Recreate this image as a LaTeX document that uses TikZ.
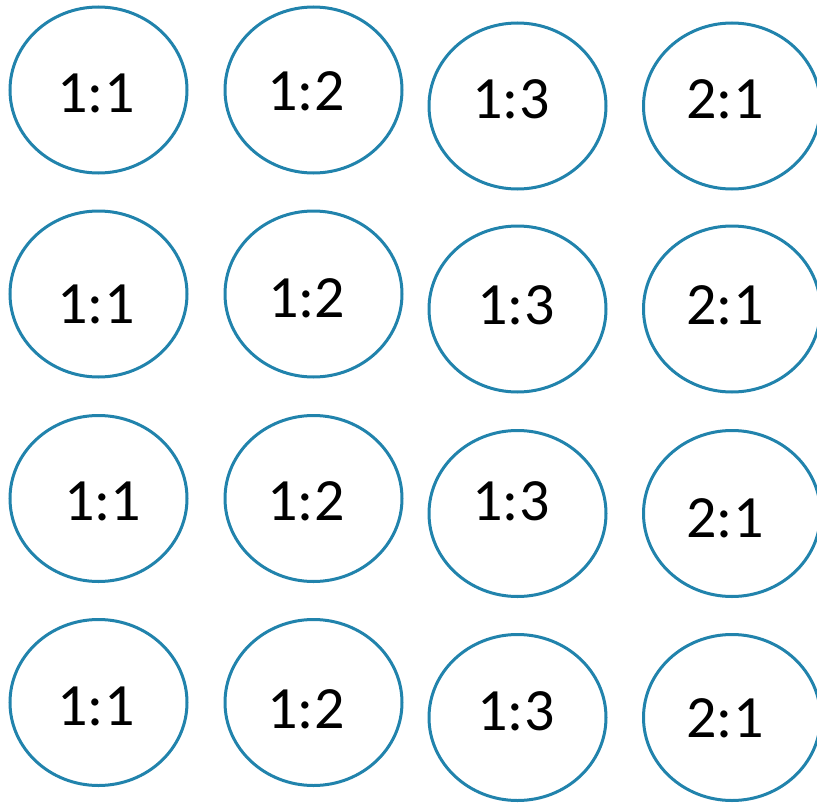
\documentclass[tikz,border=0pt]{standalone}
\usepackage{fontspec}
\setmainfont{Carlito}
\usetikzlibrary{shapes.geometric}
\definecolor{ringblue}{RGB}{33,131,172}
\tikzset{
  ring/.style={ellipse, draw=ringblue, line width=3pt, minimum width=177pt, minimum height=166pt, inner sep=0pt},
  ratio/.style={anchor=base, inner sep=0pt, font=\fontsize{60}{60}\selectfont, text=black}
}
\begin{document}
\begin{tikzpicture}[x=1pt,y=-1pt]
\useasboundingbox (0,0) rectangle (817,803);
\clip (0,0) rectangle (817,803);
% row 1
\node[ring] (e11) at (98.5,90) {};
\node[ring] (e12) at (313.5,90) {};
\node[ring] (e13) at (517.5,106) {};
\node[ring] (e14) at (732,106) {};
\node[ratio] (t11) at (96,112) {1:1};
\node[ratio] (t12) at (306,110) {1:2};
\node[ratio] (t13) at (511,118) {1:3};
\node[ratio] (t14) at (725,118) {2:1};
% row 2
\node[ring] (e21) at (98.5,294) {};
\node[ring] (e22) at (313.5,294) {};
\node[ring] (e23) at (517.5,309) {};
\node[ring] (e24) at (732,309) {};
\node[ratio] (t21) at (96,323) {1:1};
\node[ratio] (t22) at (306.5,317) {1:2};
\node[ratio] (t23) at (516,324) {1:3};
\node[ratio] (t24) at (725,324) {2:1};
% row 3
\node[ring] (e31) at (98.5,498.5) {};
\node[ring] (e32) at (313.5,498.5) {};
\node[ring] (e33) at (517.5,513.5) {};
\node[ring] (e34) at (732,513.5) {};
\node[ratio] (t31) at (102.5,520) {1:1};
\node[ratio] (t32) at (306,520) {1:2};
\node[ratio] (t33) at (511,520) {1:3};
\node[ratio] (t34) at (725,537) {2:1};
% row 4
\node[ring] (e41) at (98.5,702.5) {};
\node[ring] (e42) at (313.5,702.5) {};
\node[ring] (e43) at (517.5,717.5) {};
\node[ring] (e44) at (732,717.5) {};
\node[ratio] (t41) at (96,725) {1:1};
\node[ratio] (t42) at (306,728) {1:2};
\node[ratio] (t43) at (516,730) {1:3};
\node[ratio] (t44) at (725,737) {2:1};
\end{tikzpicture}
\end{document}
